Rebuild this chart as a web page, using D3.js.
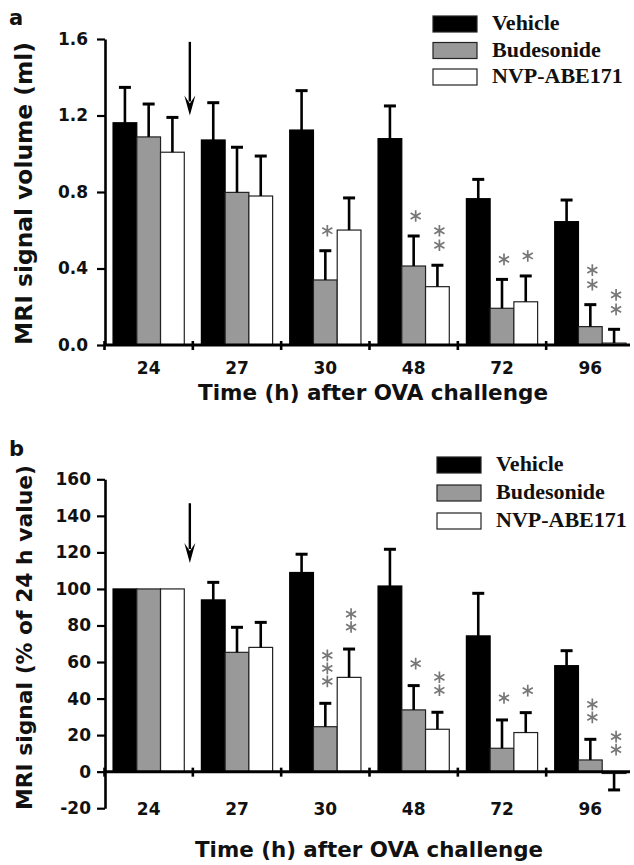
<!DOCTYPE html>
<html>
<head>
<meta charset="utf-8">
<script src="https://cdn.jsdelivr.net/npm/d3@7"></script>
<style>
  body { margin: 0; background: #fff; }
  svg { display: block; }
  .title { font-family: "DejaVu Sans", sans-serif; font-weight: bold; fill: #111; }
  .legend text { font-family: "Liberation Serif", serif; font-weight: bold; font-size: 22px; fill: #111; }
</style>
</head>
<body>
<svg id="chart" width="634" height="865"></svg>
<script>
const times = ['24', '27', '30', '48', '72', '96']
const series = ['Vehicle', 'Budesonide', 'NVP-ABE171']

// panel a: MRI signal volume (ml)
const volVehicle = [1.162, 1.072, 1.124, 1.079, 0.765, 0.645]
const volVehicleErr = [0.185, 0.195, 0.206, 0.171, 0.101, 0.113]
const volBudesonide = [1.088, 0.798, 0.34, 0.413, 0.192, 0.096]
const volBudesonideErr = [0.172, 0.236, 0.153, 0.157, 0.151, 0.115]
const volNvp = [1.008, 0.779, 0.601, 0.305, 0.226, 0.01]
const volNvpErr = [0.182, 0.209, 0.168, 0.112, 0.135, 0.072]
const volStarsBudesonide = [0, 0, 1, 1, 1, 2]
const volStarsNvp = [0, 0, 0, 2, 1, 2]
const volTicks = [0, 0.4, 0.8, 1.2, 1.6]
const volArrow = [1.585, 1.2]

// panel b: MRI signal (% of 24 h value)
const pctVehicle = [100, 94, 109, 101.6, 74.3, 58]
const pctVehicleErr = [0, 9.6, 10, 20.1, 23.3, 8.2]
const pctBudesonide = [100, 65.3, 24.6, 33.8, 12.8, 6.4]
const pctBudesonideErr = [0, 13.7, 12.8, 13.3, 15.5, 11.3]
const pctNvp = [100, 68, 51.6, 23.2, 21.4, -1]
const pctNvpErr = [0, 13.7, 15.5, 9.3, 10.9, 9]
const pctStarsBudesonide = [0, 0, 3, 1, 1, 2]
const pctStarsNvp = [0, 0, 2, 2, 1, 2]
const pctTicks = [-20, 0, 20, 40, 60, 80, 100, 120, 140, 160]
const pctArrow = [146.9, 114.2]

const fills = ['#000', '#999', '#fff']
const svg = d3.select('#chart')

function drawPanel (setup) {
  const g = svg.append('g')

  const x0 = d3.scaleBand().domain(times).range([104.5, 634.5]).padding(0)
  const x1 = d3.scaleBand().domain(series).range([0, x0.bandwidth()])
    .paddingInner(0).paddingOuter(0.36)
  const y = d3.scaleLinear().domain(setup.domain).range(setup.range)
  const y0 = y(0)

  // rows: one per time x series
  const rows = []
  times.forEach((t, i) => {
    series.forEach((s, j) => {
      rows.push({
        t, s, j,
        v: setup.means[j][i],
        e: setup.errs[j][i],
        stars: setup.stars[j] ? setup.stars[j][i] : 0
      })
    })
  })

  // bars
  g.selectAll('rect.bar').data(rows).join('rect')
    .attr('class', 'bar')
    .attr('x', d => x0(d.t) + x1(d.s))
    .attr('width', x1.bandwidth())
    .attr('y', d => Math.min(y(d.v), y0))
    .attr('height', d => Math.abs(y(d.v) - y0))
    .attr('fill', d => fills[d.j])
    .attr('stroke', d => d.j === 0 ? '#000' : '#222')
    .attr('stroke-width', 1.2)

  // error bars (point away from zero)
  const errRows = rows.filter(d => d.e > 0)
  const cx = d => x0(d.t) + x1(d.s) + x1.bandwidth() / 2
  const errEnd = d => d.v >= 0 ? d.v + d.e : d.v - d.e
  g.selectAll('line.err').data(errRows).join('line')
    .attr('x1', cx).attr('x2', cx)
    .attr('y1', d => y(d.v)).attr('y2', d => y(errEnd(d)))
    .attr('stroke', '#000').attr('stroke-width', 2.6)
  g.selectAll('line.cap').data(errRows).join('line')
    .attr('x1', d => cx(d) - 6).attr('x2', d => cx(d) + 6)
    .attr('y1', d => y(errEnd(d))).attr('y2', d => y(errEnd(d)))
    .attr('stroke', '#000').attr('stroke-width', 3)

  // significance stars
  const starData = []
  rows.filter(d => d.stars > 0).forEach(d => {
    const top = Math.min(y0, y(d.v), y(errEnd(d)))
    for (let k = 0; k < d.stars; k++) {
      starData.push({ x: cx(d) + 2, y: top - setup.starGap - k * setup.starStep })
    }
  })
  const star = d3.symbol(d3.symbolAsterisk, 95)
  g.selectAll('path.star').data(starData).join('path')
    .attr('transform', d => 'translate(' + d.x + ',' + d.y + ')')
    .attr('d', star)
    .attr('fill', 'none')
    .attr('stroke', '#777')
    .attr('stroke-width', 1.7)

  // y axis
  const yAxis = d3.axisLeft(y).tickValues(setup.ticks).tickFormat(setup.format)
    .tickSize(8).tickSizeOuter(0).tickPadding(setup.tickPad)
  g.append('g')
    .attr('transform', 'translate(105,0)')
    .call(yAxis)
    .call(a => a.select('.domain').attr('stroke-width', 2.6))
    .call(a => a.selectAll('.tick line').attr('stroke-width', 2.2))
    .call(a => a.selectAll('text')
      .attr('font-family', 'DejaVu Sans, sans-serif')
      .attr('font-weight', 'bold').attr('font-size', 17).attr('fill', '#111'))

  // x axis line with group separators
  g.append('line')
    .attr('x1', 104).attr('x2', 630)
    .attr('y1', y0).attr('y2', y0)
    .attr('stroke', '#000').attr('stroke-width', 3)
  g.selectAll('line.sep').data(times).join('line')
    .attr('x1', d => x0(d)).attr('x2', d => x0(d))
    .attr('y1', y0 - 4).attr('y2', y0 + 5)
    .attr('stroke', '#000').attr('stroke-width', 2.6)

  // x tick labels
  const xAxis = d3.axisBottom(x0).tickSize(0)
  g.append('g')
    .attr('transform', 'translate(0,' + y0 + ')')
    .call(xAxis)
    .call(a => a.select('.domain').remove())
    .call(a => a.selectAll('text').attr('dy', null).attr('y', setup.labelOffset)
      .attr('font-family', 'DejaVu Sans, sans-serif')
      .attr('font-weight', 'bold').attr('font-size', 17).attr('fill', '#111'))

  // arrow marking treatment
  const ax = x0('27') - 3
  const ya = y(setup.arrow[0])
  const yb = y(setup.arrow[1])
  g.append('line')
    .attr('x1', ax).attr('x2', ax)
    .attr('y1', ya).attr('y2', yb - 14)
    .attr('stroke', '#000').attr('stroke-width', 2.4)
  g.append('path')
    .attr('d', 'M' + (ax - 5.5) + ',' + (yb - 20) + 'L' + ax + ',' + yb + 'L' + (ax + 5.5) + ',' + (yb - 20) + 'L' + ax + ',' + (yb - 12) + 'Z')
    .attr('fill', '#000')

  // titles
  g.append('text').attr('class', 'title')
    .attr('x', setup.xTitle.x).attr('y', setup.xTitle.y)
    .attr('font-size', setup.xTitle.size)
    .attr('textLength', setup.xTitle.len).attr('lengthAdjust', 'spacingAndGlyphs')
    .text('Time (h) after OVA challenge')
  g.append('text').attr('class', 'title')
    .attr('transform', 'rotate(-90)')
    .attr('x', -setup.yTitle.cy).attr('y', 32)
    .attr('text-anchor', 'middle')
    .attr('font-size', setup.yTitle.size)
    .attr('textLength', setup.yTitle.len).attr('lengthAdjust', 'spacingAndGlyphs')
    .text(setup.yTitle.text)
  g.append('text').attr('class', 'title')
    .attr('x', 9).attr('y', setup.letterY)
    .attr('font-size', 21)
    .text(setup.letter)

  // legend
  const lg = g.append('g').attr('class', 'legend')
    .attr('transform', 'translate(' + setup.legend.x + ',' + setup.legend.y + ')')
  const item = lg.selectAll('g').data(series).join('g')
    .attr('transform', (d, i) => 'translate(0,' + i * setup.legend.step + ')')
  item.append('rect')
    .attr('width', 44).attr('height', 16)
    .attr('fill', (d, i) => fills[i])
    .attr('stroke', '#222').attr('stroke-width', 1.2)
  item.append('text')
    .attr('x', 59).attr('y', 14)
    .text(d => d)
}

drawPanel({
  letter: 'a', letterY: 25,
  domain: [0, 1.6], range: [345, 39],
  ticks: volTicks, format: d3.format('.1f'), tickPad: 9,
  means: [volVehicle, volBudesonide, volNvp],
  errs: [volVehicleErr, volBudesonideErr, volNvpErr],
  stars: [null, volStarsBudesonide, volStarsNvp],
  starGap: 20, starStep: 14.5,
  arrow: volArrow,
  labelOffset: 29,
  xTitle: { x: 198, y: 400, size: 22, len: 350 },
  yTitle: { cy: 193.5, size: 23, len: 303, text: 'MRI signal volume (ml)' },
  legend: { x: 433, y: 16, step: 26.5 }
})

drawPanel({
  letter: 'b', letterY: 456,
  domain: [-20, 160], range: [808.2, 479.3],
  ticks: pctTicks, format: d => String(d), tickPad: 6,
  means: [pctVehicle, pctBudesonide, pctNvp],
  errs: [pctVehicleErr, pctBudesonideErr, pctNvpErr],
  stars: [null, pctStarsBudesonide, pctStarsNvp],
  starGap: 22, starStep: 13,
  arrow: pctArrow,
  labelOffset: 43,
  xTitle: { x: 195, y: 857, size: 21, len: 348 },
  yTitle: { cy: 637.5, size: 22, len: 345, text: 'MRI signal (% of 24 h value)' },
  legend: { x: 437, y: 457, step: 28 }
})
</script>
</body>
</html>
